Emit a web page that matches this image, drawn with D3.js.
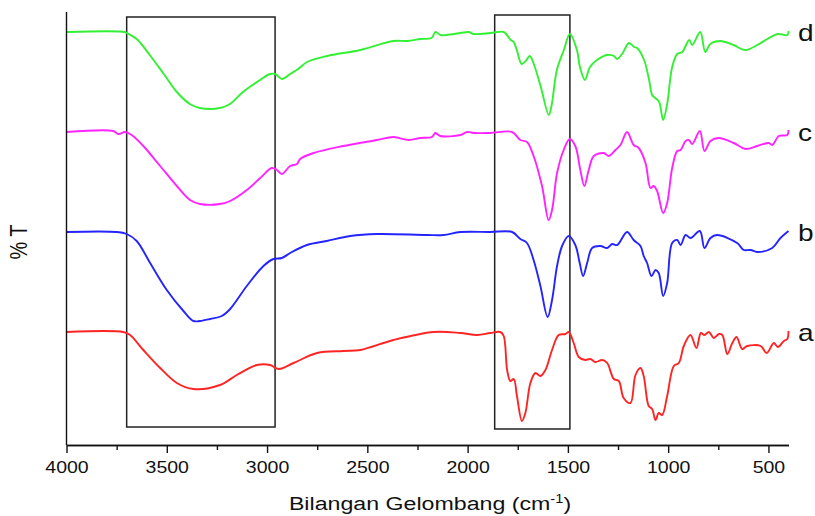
<!DOCTYPE html>
<html>
<head>
<meta charset="utf-8">
<script src="https://cdn.jsdelivr.net/npm/d3@7"></script>
<style>
  body { margin: 0; background: #fff; }
  text { font-family: "Liberation Sans", Arial, sans-serif; fill: #111; }
</style>
</head>
<body>
<div id="chart"></div>
<script>
// ---- data ----
const majorTicks = [4000, 3500, 3000, 2500, 2000, 1500, 1000, 500];
const minorTicks = [3750, 3250, 2750, 2250, 1750, 1250, 750];

const seriesNames = ['a', 'b', 'c', 'd'];
const seriesOffsets = [0, 100, 200, 300];

// [wavenumber cm-1, relative %T]
const spectrumA = [[4000,100],[3717,100],[3683,97],[3617,82],[3533,64],[3450,49],[3367,43],[3234,47],[3151,57],[3051,67],[2985,67],[2943,63],[2868,69],[2751,79],[2619,81],[2535,82],[2369,92],[2170,100],[2036,99],[1953,97],[1887,99],[1837,100],[1820,96],[1803,62],[1787,51],[1770,53],[1754,36],[1729,11],[1712,19],[1687,49],[1662,59],[1637,56],[1612,62],[1579,82],[1546,97],[1512,98],[1496,100],[1471,89],[1446,75],[1413,72],[1388,73],[1363,70],[1329,72],[1304,69],[1271,53],[1246,51],[1222,34],[1188,29],[1163,57],[1138,64],[1122,56],[1097,26],[1080,23],[1063,12],[1047,19],[1030,17],[1005,36],[972,66],[947,69],[922,86],[889,97],[859,84],[837,99],[819,97],[797,100],[772,94],[747,98],[730,97],[705,78],[680,89],[659,95],[631,83],[606,86],[539,86],[509,79],[473,89],[453,85],[423,91],[406,93],[400,101]];

const spectrumB = [[4000,100],[3750,100],[3700,98],[3650,91],[3583,69],[3500,42],[3417,21],[3367,11],[3334,11],[3284,13],[3226,16],[3184,23],[3101,46],[3018,66],[2968,73],[2926,74],[2885,79],[2801,87],[2702,91],[2585,96],[2452,98],[2203,97],[2120,97],[2036,100],[1887,100],[1778,100],[1737,93],[1704,89],[1671,72],[1637,46],[1601,15],[1579,32],[1554,66],[1529,86],[1496,96],[1463,87],[1441,69],[1424,56],[1404,69],[1379,84],[1338,86],[1304,84],[1279,88],[1254,87],[1205,100],[1172,92],[1138,86],[1122,76],[1105,69],[1083,56],[1063,62],[1047,59],[1025,36],[1005,49],[980,89],[955,92],[938,87],[913,97],[888,94],[842,101],[819,84],[789,94],[756,97],[656,89],[623,82],[589,82],[556,80],[481,84],[440,94],[400,101]];

const spectrumC = [[4000,100],[3767,101],[3742,98],[3708,100],[3675,97],[3617,86],[3533,66],[3450,46],[3384,32],[3334,28],[3234,28],[3184,31],[3101,42],[3034,54],[2976,64],[2951,62],[2926,58],[2885,66],[2851,68],[2835,73],[2768,79],[2619,86],[2452,92],[2369,95],[2294,92],[2236,94],[2178,95],[2161,99],[2136,96],[2036,97],[2003,100],[1970,99],[1887,99],[1778,100],[1737,92],[1704,90],[1671,76],[1629,46],[1596,12],[1579,22],[1554,59],[1521,82],[1491,93],[1463,86],[1438,62],[1418,46],[1396,62],[1371,76],[1321,79],[1296,76],[1263,82],[1238,87],[1205,100],[1172,87],[1147,84],[1113,69],[1088,44],[1072,46],[1055,41],[1025,19],[1005,29],[980,64],[955,81],[938,82],[913,91],[897,92],[880,88],[842,101],[819,81],[789,91],[748,94],[673,89],[614,83],[556,86],[498,89],[481,87],[448,96],[406,97],[400,102]];

const spectrumD = [[4000,100],[3710,100],[3700,99],[3650,93],[3585,77],[3515,58],[3450,40],[3385,28],[3335,24],[3235,24],[3185,28],[3120,40],[3035,52],[2985,58],[2960,58],[2925,53],[2885,58],[2845,63],[2800,70],[2700,76],[2535,82],[2370,91],[2300,91],[2235,93],[2180,94],[2160,100],[2135,97],[2105,97],[2035,99],[1995,100],[1970,98],[1885,99],[1820,100],[1785,92],[1770,90],[1755,82],[1730,68],[1710,71],[1690,76],[1670,68],[1635,45],[1595,17],[1580,28],[1555,62],[1520,82],[1490,98],[1455,82],[1440,65],[1415,52],[1390,65],[1355,72],[1305,77],[1270,76],[1255,73],[1230,78],[1195,89],[1170,85],[1155,84],[1120,72],[1095,52],[1080,37],[1065,34],[1045,30],[1025,12],[1005,28],[980,65],[955,78],[930,80],[895,92],[880,87],[840,100],[815,80],[790,88],[740,91],[675,87],[615,82],[555,87],[505,93],[455,98],[405,97],[400,101]];

const spectra = [spectrumA, spectrumB, spectrumC, spectrumD];

// highlighted wavenumber windows
const boxFrom = [3700, 1865];
const boxTo = [2960, 1490];
const boxBottom = [5, 3];
const boxTop = [415, 417];

// ---- styling ----
const colors = ['#ff2424', '#2424ff', '#ff24ff', '#33f033'];
const stretch = 1.22;   // glyphs in the reference are a bit wide

const width = 815, height = 516;

const svg = d3.select('#chart').append('svg')
    .attr('width', width)
    .attr('height', height);

const x = d3.scaleLinear().domain([4000, 400]).range([66.5, 788.5]);
const y = d3.scaleLinear().domain([-13, 420]).range([445, 12]);

// boxes
svg.append('g').selectAll('rect')
    .data(boxFrom.map((d, i) => ({x0: d, x1: boxTo[i], y0: boxBottom[i], y1: boxTop[i]})))
    .join('rect')
    .attr('x', d => x(d.x0))
    .attr('y', d => y(d.y1))
    .attr('width', d => x(d.x1) - x(d.x0))
    .attr('height', d => y(d.y0) - y(d.y1))
    .attr('fill', 'none')
    .attr('stroke', '#222')
    .attr('stroke-width', 1.5);

// spectra
const line = d3.line()
    .curve(d3.curveCatmullRom.alpha(0.5));

svg.append('g').selectAll('path')
    .data(spectra)
    .join('path')
    .attr('fill', 'none')
    .attr('stroke', (d, i) => colors[i])
    .attr('stroke-width', 1.9)
    .attr('stroke-linejoin', 'round')
    .attr('d', (d, i) => line(d.map(p => [x(p[0]), y(p[1] + seriesOffsets[i])])));

// series labels
svg.append('g').selectAll('text')
    .data(seriesNames)
    .join('text')
    .attr('transform', (d, i) => `translate(798,${y(100 + seriesOffsets[i]) + 9}) scale(${stretch},1)`)
    .style('font-size', '23px')
    .text(d => d);

// minor ticks
svg.append('g')
    .attr('transform', `translate(0,${y(-13)})`)
    .call(d3.axisBottom(x).tickValues(minorTicks).tickSize(5).tickSizeOuter(0).tickFormat(''))
    .call(g => g.selectAll('line,path').attr('stroke', '#111').attr('stroke-width', 1.4));

// major ticks + labels
const xAxis = svg.append('g')
    .attr('transform', `translate(0,${y(-13)})`)
    .call(d3.axisBottom(x).tickValues(majorTicks).tickSize(8).tickSizeOuter(0)
        .tickPadding(9).tickFormat(d3.format('d')));
xAxis.selectAll('line,path').attr('stroke', '#111').attr('stroke-width', 1.4);
xAxis.selectAll('text')
    .attr('fill', '#111')
    .style('font-size', '16px')
    .style('font-family', '"Liberation Sans", Arial, sans-serif')
    .attr('transform', `scale(${stretch},1)`);

// left axis line
svg.append('line')
    .attr('x1', x(4000)).attr('x2', x(4000))
    .attr('y1', y(420)).attr('y2', y(-13))
    .attr('stroke', '#111')
    .attr('stroke-width', 1.4);

// axis titles
const xTitle = svg.append('text')
    .attr('transform', `translate(430,510) scale(${stretch},1)`)
    .attr('text-anchor', 'middle')
    .style('font-size', '19px');
xTitle.append('tspan').text('Bilangan Gelombang (cm');
xTitle.append('tspan').attr('dy', -7).style('font-size', '12px').text('-1');
xTitle.append('tspan').attr('dy', 7).text(')');

svg.append('text')
    .attr('transform', `translate(27,242) scale(${stretch},1) rotate(-90)`)
    .attr('text-anchor', 'middle')
    .style('font-size', '20px')
    .text('% T');
</script>
</body>
</html>
